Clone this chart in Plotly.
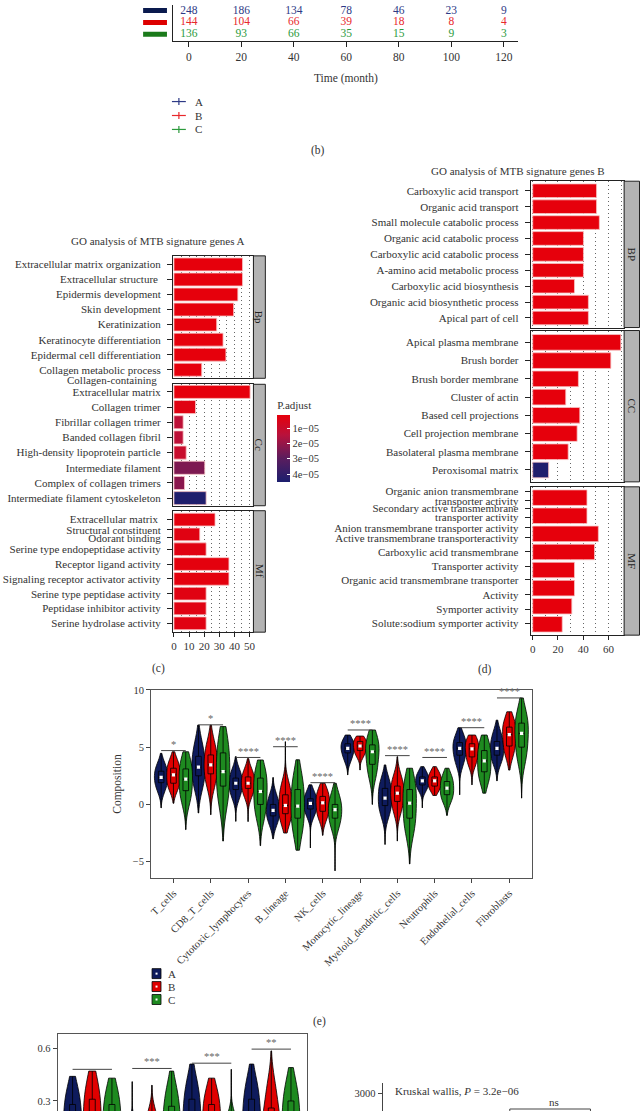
import plotly.graph_objects as go

W, H = 642, 1111
FONT = "Liberation Serif"
INK = "#333333"


def X(px):
    return px / W


def Y(py):
    return 1 - py / H


def dx(a, b):
    return [X(a), X(b)]


def dy(top, bottom):
    return [max(0.0, Y(bottom)), min(1.0, Y(top))]


# ---------------- data ----------------
risk_times = [0, 20, 40, 60, 80, 100, 120]
risk_groups = ["A", "B", "C"]
risk_A = [248, 186, 134, 78, 46, 23, 9]
risk_B = [144, 104, 66, 39, 18, 8, 4]
risk_C = [136, 93, 66, 35, 15, 9, 3]

goA_bp_terms = ["Extracellular matrix organization", "Extracellular structure ", "Epidermis development",
                "Skin development", "Keratinization", "Keratinocyte differentiation",
                "Epidermal cell differentiation", "Collagen metabolic process"]
goA_bp_count = [45.4, 45.4, 42.3, 39.5, 28.3, 32.5, 34.4, 18.4]
goA_bp_padj = [5e-7, 5e-7, 6e-7, 6e-7, 8e-7, 8e-7, 8e-7, 9e-7]

goA_cc_terms = ["Extracellular matrix", "Collagen trimer", "Fibrillar collagen trimer", "Banded collagen fibril",
                "High-density lipoprotein particle", "Intermediate filament", "Complex of collagen trimers",
                "Intermediate filament cytoskeleton"]
goA_cc_count = [50.4, 14.3, 6.1, 6.1, 8.1, 20.4, 7.0, 21.3]
goA_cc_padj = [1e-6, 3e-6, 1.3e-5, 1.3e-5, 1.0e-5, 2.4e-5, 2.2e-5, 4.4e-5]

goA_mf_terms = ["Extracellular matrix ", "Structural constituent<br>Odorant binding",
                "Serine type endopeptidase activity", "Receptor ligand activity",
                "Signaling receptor activator activity", "Serine type peptidase activity",
                "Peptidase inhibitor activity", "Serine hydrolase activity"]
goA_mf_count = [27.2, 17.1, 21.3, 36.4, 36.4, 21.3, 21.3, 21.3]
goA_mf_padj = [2e-6, 3e-6, 3e-6, 2e-6, 2e-6, 3e-6, 3e-6, 3e-6]

goB_bp_terms = ["Carboxylic acid transport", "Organic acid transport", "Small molecule catabolic process",
                "Organic acid catabolic process", "Carboxylic acid catabolic process",
                "A-amino acid metabolic process", "Carboxylic acid biosynthesis",
                "Organic acid biosynthetic process", "Apical part of cell"]
goB_bp_count = [50.6, 50.6, 52.8, 40.2, 40.2, 40.2, 33.1, 44.1, 44.1]
goB_bp_padj = [1e-8, 1e-8, 1e-8, 1e-8, 1e-8, 1e-8, 1e-8, 1e-8, 1e-8]

goB_cc_terms = ["Apical plasma membrane", "Brush border", "Brush border membrane", "Cluster of actin",
                "Based cell projections", "Cell projection membrane", "Basolateral plasma membrane",
                "Peroxisomal matrix"]
goB_cc_count = [69.8, 61.9, 36.2, 26.2, 37.3, 35.2, 28.1, 12.6]
goB_cc_padj = [1e-8, 1e-8, 1e-8, 1e-8, 1e-8, 1e-8, 1e-8, 4.4e-5]

goB_mf_terms = ["Organic anion transmembrane<br>transporter activity",
                "Secondary active transmembrane<br>transporter activity",
                "Anion transmembrane transporter activity<br>Active transmembrane transporteractivity",
                "Carboxylic acid transmembrane", "Transporter activity",
                "Organic acid transmembrane transporter<br>Activity", "Symporter activity",
                "Solute:sodium symporter activity"]
goB_mf_count = [43.0, 43.0, 52.0, 49.0, 33.1, 33.1, 31.0, 23.4]
goB_mf_padj = [1e-8, 1e-8, 1e-8, 1e-8, 1e-8, 1e-8, 1e-8, 1e-8]

# immune composition: [min, p10, q1, median, q3, p90, max] per cell type
e_cells = ["T_cells", "CD8_T_cells", "Cytotoxic_lymphocytes", "B_lineage", "NK_cells", "Monocytic_lineage",
           "Myeloid_dendritic_cells", "Neutrophils", "Endothelial_cells", "Fibroblasts"]
e_A = [[-0.3, 1.3, 1.9, 2.37, 2.9, 3.4, 4.46],
       [-0.75, 1.6, 2.5, 3.25, 4.2, 5.2, 6.93],
       [-1.48, 0.7, 1.3, 1.85, 2.3, 2.9, 4.17],
       [-3.0, -1.6, -1.0, -0.52, 0.0, 0.7, 2.35],
       [-3.8, -0.9, -0.4, 0.09, 0.5, 1.0, 1.71],
       [2.58, 3.9, 4.5, 4.9, 5.3, 5.6, 6.06],
       [-3.5, -0.8, -0.1, 0.55, 1.4, 2.0, 3.45],
       [-0.3, 1.3, 1.7, 2.06, 2.4, 2.8, 3.3],
       [0.84, 3.6, 4.3, 4.9, 5.4, 5.9, 6.7],
       [2.06, 3.8, 4.3, 4.9, 5.5, 6.2, 7.36]]
e_B = [[0.1, 1.5, 1.85, 2.58, 3.16, 3.7, 4.6],
       [-0.9, 1.8, 2.67, 3.45, 4.32, 5.2, 6.93],
       [-1.5, 0.8, 1.4, 1.85, 2.4, 2.9, 4.0],
       [-2.5, -1.4, -0.81, -0.09, 0.84, 1.6, 5.48],
       [-2.7, -1.1, -0.6, 0.14, 0.7, 1.2, 1.85],
       [3.0, 4.3, 4.7, 5.1, 5.5, 5.7, 5.97],
       [-3.2, -0.5, 0.26, 0.98, 1.6, 2.3, 4.17],
       [0.78, 1.3, 1.6, 2.06, 2.4, 2.8, 3.3],
       [1.71, 3.6, 4.15, 4.85, 5.3, 5.7, 6.06],
       [3.0, 4.5, 5.1, 6.1, 6.75, 7.3, 8.09]]
e_C = [[-2.2, 0.4, 1.2, 2.2, 3.1, 3.8, 4.6],
       [-3.2, 0.3, 1.6, 2.87, 4.5, 5.6, 6.8],
       [-3.6, -0.9, 0.0, 1.13, 2.3, 2.9, 3.88],
       [-4.0, -2.4, -1.2, -0.15, 1.3, 2.3, 3.9],
       [-5.8, -1.9, -1.2, -0.46, 0.0, 0.8, 1.85],
       [0.0, 2.6, 3.5, 4.6, 5.2, 5.8, 6.5],
       [-5.2, -2.2, -1.2, 0.11, 1.3, 2.1, 3.16],
       [-0.96, 0.4, 0.85, 1.42, 2.0, 2.5, 3.16],
       [0.98, 2.2, 2.85, 3.8, 4.7, 5.3, 6.06],
       [0.55, 4.0, 5.0, 6.2, 7.1, 7.9, 9.3]]
e_sig = ["*", "*", "****", "****", "****", "****", "****", "****", "****", "****"]
e_bracket = [4.7, 6.95, 4.1, 5.04, 1.9, 6.5, 4.26, 4.1, 6.7, 9.3]

f_A = [[0.0, 0.06, 0.12, 0.2, 0.28, 0.36, 0.44],
       [0.0, 0.01, 0.03, 0.06, 0.1, 0.16, 0.41],
       [0.0, 0.08, 0.14, 0.22, 0.31, 0.4, 0.51],
       [0.0, 0.08, 0.14, 0.22, 0.31, 0.4, 0.51]]
f_B = [[0.0, 0.07, 0.13, 0.22, 0.31, 0.4, 0.47],
       [0.0, 0.02, 0.05, 0.09, 0.15, 0.22, 0.39],
       [0.0, 0.06, 0.12, 0.2, 0.28, 0.35, 0.43],
       [0.0, 0.07, 0.12, 0.18, 0.26, 0.38, 0.585]]
f_C = [[0.0, 0.06, 0.12, 0.2, 0.28, 0.36, 0.43],
       [0.0, 0.05, 0.1, 0.18, 0.27, 0.36, 0.47],
       [0.0, 0.02, 0.04, 0.08, 0.14, 0.2, 0.48],
       [0.0, 0.07, 0.13, 0.21, 0.3, 0.39, 0.49]]
f_sig = ["", "***", "***", "**"]
f_bracket = [0.48, 0.485, 0.515, 0.595]

g_ticks = [3000]
g_test_text = "Kruskal wallis, <i>P</i> = 3.2e\u221206"

# ---------------- styles ----------------
risk_colors = {"A": "#2e3a86", "B": "#e8282c", "C": "#2b9a3c"}
bar_colors = {"A": "#0a1a4e", "B": "#dd0000", "C": "#1a7a1a"}
grp_colors = {"A": "#0e1b5c", "B": "#e00000", "C": "#1e8a20"}
offsets = {"A": -0.33, "B": 0.0, "C": 0.33}

fig = go.Figure()
layout = dict(width=W, height=H, margin=dict(l=0, r=0, t=0, b=0),
              paper_bgcolor="white", plot_bgcolor="white",
              font=dict(family=FONT, size=10, color=INK),
              violinmode="overlay", boxmode="overlay", barmode="overlay", bargap=0.12,
              showlegend=False)
shapes = []
annos = []


def note(text, px, py, size=10, xanchor="center", yanchor="middle", angle=0, color=INK):
    annos.append(dict(text=text, x=X(px), y=Y(py), xref="paper", yref="paper", showarrow=False,
                      xanchor=xanchor, yanchor=yanchor, textangle=angle,
                      font=dict(size=size, color=color, family=FONT)))


# ---------------- (b) risk table ----------------
layout["xaxis"] = dict(domain=dx(172, 519), range=[-6.06, 125.3], anchor="y", tickvals=risk_times,
                       ticks="outside", ticklen=5, tickcolor="#222", showline=True, linecolor="#222",
                       showgrid=False, zeroline=False, tickfont=dict(size=11.5))
layout["yaxis"] = dict(domain=dy(0, 36), range=[2.56, -0.475], anchor="x", showline=True, linecolor="#222",
                       showticklabels=False, ticks="", showgrid=False, zeroline=False)
risk_vals = {"A": risk_A, "B": risk_B, "C": risk_C}
for gi, g in enumerate(risk_groups):
    fig.add_trace(go.Scatter(x=risk_times, y=[gi] * len(risk_times), mode="text",
                             text=[str(v) for v in risk_vals[g]],
                             textfont=dict(color=risk_colors[g], size=11.5, family=FONT),
                             xaxis="x", yaxis="y", showlegend=False, hoverinfo="skip"))
    shapes.append(dict(type="line", xref="paper", yref="y", x0=X(142), x1=X(166), y0=gi, y1=gi,
                       line=dict(color=bar_colors[g], width=5)))
    # survival-curve legend key (line with censor cross)
    ly = 97 + 14 * gi
    shapes.append(dict(type="line", xref="paper", yref="paper", x0=X(171), x1=X(185), y0=Y(ly), y1=Y(ly),
                       line=dict(color=risk_colors[g], width=1.2)))
    shapes.append(dict(type="line", xref="paper", yref="paper", x0=X(178), x1=X(178), y0=Y(ly - 3.5),
                       y1=Y(ly + 3.5), line=dict(color=risk_colors[g], width=1.2)))
    note(g, 192, ly, size=11, xanchor="left")
note("Time (month)", 346, 74, size=11.5)
note("(b)", 318, 146, size=11.5)

# ---------------- GO panels ----------------
GRID = dict(showgrid=True, griddash="1px,3px", gridcolor="#666666", gridwidth=1)


def go_panel(n, xd, top, bottom, xr, dtick, minor, show_x, terms, counts, padj, pad, line_pos=None):
    k = len(terms)
    layout[f"xaxis{n}"] = dict(domain=xd, range=xr, anchor=f"y{n}", showline=True, mirror=True,
                               linecolor="#222", linewidth=1, dtick=dtick, tick0=0,
                               minor=dict(dtick=minor, **GRID), zeroline=False,
                               showticklabels=show_x, ticks="outside" if show_x else "", ticklen=4,
                               tickcolor="#222", tickfont=dict(size=11), **GRID)
    yax = dict(domain=dy(top, bottom), anchor=f"x{n}", range=[k - 1 + pad, -pad], showline=True,
               mirror=True, linecolor="#222", ticks="outside", ticklen=5, tickcolor="#222", showgrid=False,
               zeroline=False, ticklabelstandoff=4, tickfont=dict(size=11, color=INK))
    if line_pos is None:
        yax["type"] = "category"
        ys = terms
    else:
        lines = [ln for t in terms for ln in t.split("<br>")]
        yax.update(type="linear", tickvals=line_pos, ticktext=lines)
        ys = list(range(k))
    layout[f"yaxis{n}"] = yax
    fig.add_trace(go.Bar(y=ys, x=counts, orientation="h", xaxis=f"x{n}", yaxis=f"y{n}",
                         marker=dict(color=[-p for p in padj], coloraxis="coloraxis",
                                     line=dict(color="#f7c4c4", width=0.8)),
                         width=0.86, showlegend=False, hoverinfo="skip"))


def strip(x0, x1, top, bottom, label):
    shapes.append(dict(type="rect", xref="paper", yref="paper", x0=X(x0), x1=X(x1), y0=Y(bottom), y1=Y(top),
                       fillcolor="#b3b3b3", line=dict(color="#222", width=1), layer="above"))
    note(label, (x0 + x1) / 2, (top + bottom) / 2, size=11, angle=90, color="#222")


goA_x = dx(172, 253)
goA_r = [-0.66, 52.6]
go_panel(2, goA_x, 252, 375, goA_r, 10, 5, False, goA_bp_terms, goA_bp_count, goA_bp_padj, 0.57)
go_panel(3, goA_x, 381, 503, goA_r, 10, 5, False, goA_cc_terms, goA_cc_count, goA_cc_padj, 0.5)
go_panel(4, goA_x, 508, 630, goA_r, 10, 5, True, goA_mf_terms, goA_mf_count, goA_mf_padj, 0.6,
         line_pos=[0, 0.68, 1.22, 2, 3, 4, 5, 6, 7])
strip(253, 265, 252, 375, "Bp")
strip(253, 265, 381, 503, "Cc")
strip(253, 265, 508, 630, "Mf")
note("GO analysis of MTB signature genes A", 157, 237, size=11)
note("Collagen-containing", 158, 377, size=11, xanchor="right")
note("(c)", 157, 667, size=11.5)

goB_x = dx(532, 626)
goB_r = [-1.6, 72.4]
go_panel(5, goB_x, 177, 324, goB_r, 20, 10, False, goB_bp_terms, goB_bp_count, goB_bp_padj, 0.6)
go_panel(6, goB_x, 327, 479, goB_r, 20, 10, False, goB_cc_terms, goB_cc_count, goB_cc_padj, 0.65)
go_panel(7, goB_x, 484, 633, goB_r, 20, 10, True, goB_mf_terms, goB_mf_count, goB_mf_padj, 0.6,
         line_pos=[-0.36, 0.17, 0.58, 1.08, 1.66, 2.22, 3.0, 3.8, 4.55, 5.38, 6.18, 6.95])
strip(626, 641.5, 177, 324, "BP")
strip(626, 641.5, 327, 479, "CC")
strip(626, 641.5, 484, 633, "MF")
note("GO analysis of MTB signature genes B", 519, 167, size=11)
note("(d)", 486, 668, size=11.5)

layout["coloraxis"] = dict(
    cmin=-4.5e-5, cmax=-1.4e-6,
    colorscale=[[0, "#1c1f6e"], [0.35, "#5a1d5e"], [0.7, "#b8123c"], [1, "#e6000c"]],
    colorbar=dict(x=X(277), xanchor="left", y=Y(479), yanchor="bottom", len=84, lenmode="pixels",
                  thickness=13, outlinewidth=0, ticks="inside", tickcolor="white", ticklen=3,
                  tickvals=[-1e-5, -2e-5, -3e-5, -4e-5],
                  ticktext=["1e\u221205", "2e\u221205", "3e\u221205", "4e\u221205"],
                  tickfont=dict(size=10.5, family=FONT, color=INK), xpad=0, ypad=0,
                  title=dict(text="P.adjust", side="top", font=dict(size=11, family=FONT, color=INK))))

# ---------------- (e) immune composition violins ----------------
e_stats = {"A": e_A, "B": e_B, "C": e_C}
layout["xaxis8"] = dict(domain=dx(150, 533), range=[-0.6, 9.6], anchor="y8", tickvals=list(range(len(e_cells))),
                        ticktext=e_cells, tickangle=-45, ticks="outside", ticklen=4, tickcolor="#444",
                        showline=True, mirror=True, linecolor="#555", showgrid=False, zeroline=False,
                        tickfont=dict(size=10.5, color=INK))
layout["yaxis8"] = dict(domain=dy(688, 877), range=[-6.43, 10], anchor="x8", tickvals=[-5, 0, 5, 10],
                        ticks="outside", ticklen=4, tickcolor="#444", showline=True, mirror=True,
                        linecolor="#555", showgrid=False, zeroline=False, tickfont=dict(size=10.5, color=INK))
note("Composition", 116, 782, size=11.5, angle=-90)


def violin_set(stats_map, xa, ya, vwidth, bwidth):
    for g in ["A", "B", "C"]:
        stats = stats_map[g]
        for i, s in enumerate(stats):
            xpos = i + offsets[g]
            core = s[1:6]
            fig.add_trace(go.Violin(x=[xpos] * len(core), y=core, xaxis=xa, yaxis=ya,
                                    span=[s[0], s[6]], spanmode="manual", bandwidth=(s[5] - s[1]) / 3.2,
                                    width=vwidth, scalemode="width", fillcolor=grp_colors[g],
                                    line=dict(color="black", width=0.8), points=False,
                                    box_visible=False, meanline_visible=False, opacity=1,
                                    name=g, showlegend=False, hoverinfo="skip"))
    for g in ["A", "B", "C"]:
        stats = stats_map[g]
        xs = [i + offsets[g] for i in range(len(stats))]
        fig.add_trace(go.Box(x=xs, q1=[s[2] for s in stats], median=[s[3] for s in stats],
                             q3=[s[4] for s in stats], lowerfence=[s[0] for s in stats],
                             upperfence=[s[6] for s in stats], width=bwidth, whiskerwidth=0,
                             fillcolor=grp_colors[g], line=dict(color="black", width=0.8),
                             xaxis=xa, yaxis=ya, showlegend=False, hoverinfo="skip", boxpoints=False))
        fig.add_trace(go.Scatter(x=xs, y=[s[3] for s in stats], mode="markers", xaxis=xa, yaxis=ya,
                                 marker=dict(symbol="square", size=3.2, color="white"),
                                 showlegend=False, hoverinfo="skip"))


violin_set(e_stats, "x8", "y8", 0.36, 0.15)
for i, (lab, yb) in enumerate(zip(e_sig, e_bracket)):
    shapes.append(dict(type="line", xref="x8", yref="y8", x0=i - 0.33, x1=i + 0.33, y0=yb, y1=yb,
                       line=dict(color="#444", width=1)))
    annos.append(dict(text=lab, x=i, y=yb, xref="x8", yref="y8", showarrow=False, yanchor="middle",
                      yshift=6, font=dict(size=10.5, color="#666", family=FONT)))
# group key for the violins
for gi, g in enumerate(["A", "B", "C"]):
    ly = 973 + 13 * gi
    shapes.append(dict(type="rect", xref="paper", yref="paper", x0=X(151), x1=X(160), y0=Y(ly + 5),
                       y1=Y(ly - 5), fillcolor=grp_colors[g], line=dict(color="black", width=0.8)))
    shapes.append(dict(type="rect", xref="paper", yref="paper", x0=X(154.5), x1=X(156.5), y0=Y(ly + 1),
                       y1=Y(ly - 1), fillcolor="white", line=dict(width=0)))
    note(g, 165, ly, size=11, xanchor="left")
note("(e)", 319, 1021, size=11.5)

# ---------------- (f) bottom-left violins ----------------
f_stats = {"A": f_A, "B": f_B, "C": f_C}
layout["xaxis9"] = dict(domain=dx(56, 307), range=[-0.58, 3.6], anchor="y9", showticklabels=False, ticks="",
                        showline=True, mirror=True, linecolor="#555", showgrid=False, zeroline=False)
layout["yaxis9"] = dict(domain=dy(1034, 1111), range=[0.243, 0.679], anchor="x9", tickvals=[0.3, 0.6],
                        ticktext=["0.3", "0.6"], ticks="outside", ticklen=4, tickcolor="#444",
                        showline=True, mirror=True, linecolor="#555", showgrid=False, zeroline=False,
                        tickfont=dict(size=10.5, color=INK))
violin_set(f_stats, "x9", "y9", 0.3, 0.1)
for i, (lab, yb) in enumerate(zip(f_sig, f_bracket)):
    shapes.append(dict(type="line", xref="x9", yref="y9", x0=i - 0.33, x1=i + 0.33, y0=yb, y1=yb,
                       line=dict(color="#444", width=1)))
    if lab:
        annos.append(dict(text=lab, x=i, y=yb, xref="x9", yref="y9", showarrow=False, yanchor="middle",
                          yshift=7, font=dict(size=10.5, color="#666", family=FONT)))

# ---------------- (g) bottom-right box panel ----------------
layout["xaxis10"] = dict(domain=dx(383, 620), range=[0, 4], anchor="y10", visible=False)
layout["yaxis10"] = dict(domain=dy(1083, 1111), range=[2820, 3100], anchor="x10", tickvals=g_ticks,
                         ticks="outside", ticklen=4, tickcolor="#444", showline=True, linecolor="#444",
                         showgrid=False, zeroline=False, tickfont=dict(size=10.5, color=INK))
fig.add_trace(go.Scatter(x=[], y=[], xaxis="x10", yaxis="y10", showlegend=False))
annos.append(dict(text=g_test_text, x=X(393), y=Y(1091), xref="paper", yref="paper", showarrow=False,
                  xanchor="left", yanchor="middle", font=dict(size=11, color=INK, family=FONT)))
shapes.append(dict(type="path", xref="x10", yref="y10", path="M 2.16,2820 L 2.16,2840 L 3.53,2840 L 3.53,2820",
                   line=dict(color="#444", width=1)))
note("ns", 555, 1102, size=11)

layout["shapes"] = shapes
layout["annotations"] = annos
fig.update_layout(**layout)
fig.write_html("out.html", config={"displayModeBar": False}, post_script=(
    "document.body.style.margin='0';document.body.style.overflow='hidden';"
    "document.documentElement.style.overflow='hidden';"))
